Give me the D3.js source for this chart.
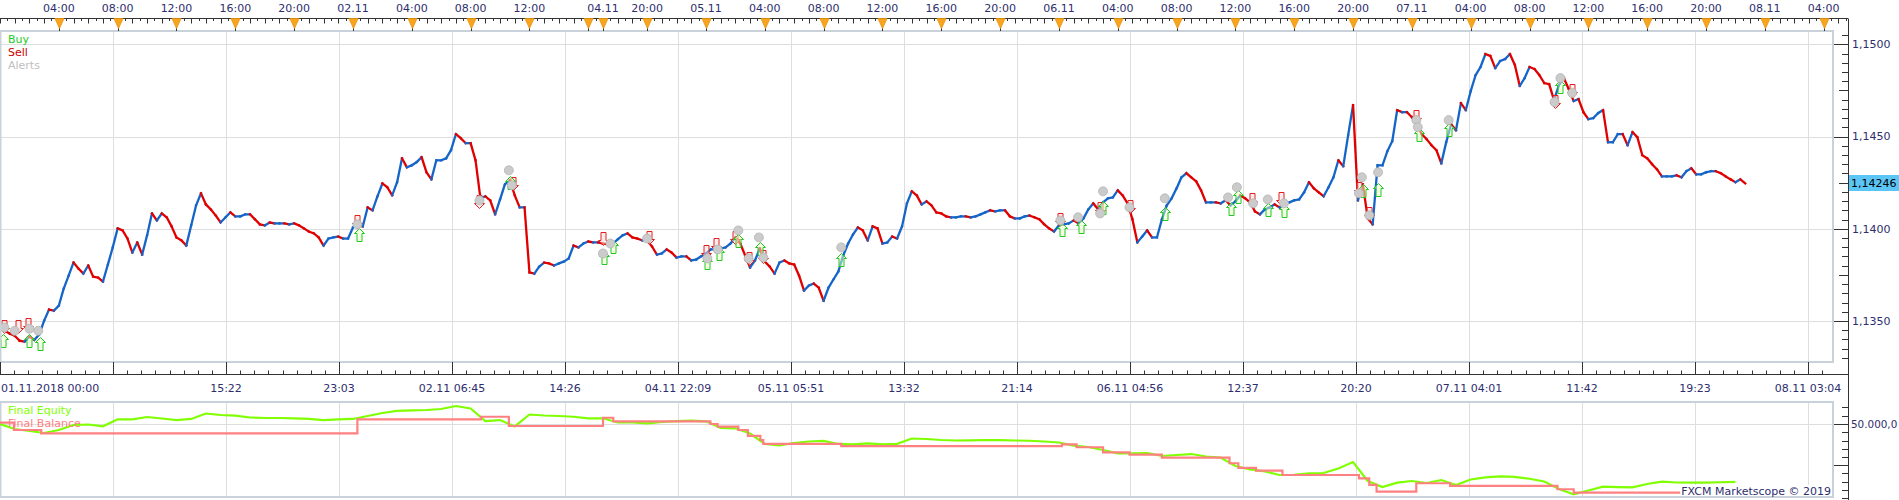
<!DOCTYPE html>
<html>
<head>
<meta charset="utf-8">
<script src="https://cdn.jsdelivr.net/npm/d3@7"></script>
<style>
html, body { margin: 0; padding: 0; background: #fff; }
svg { display: block; font-family: "DejaVu Sans", Verdana, sans-serif; font-size: 11px; }
</style>
</head>
<body>
<div id="chart"></div>
<script>
// ---- data (time in trading hours since 01.11.2018 00:00, weekend removed) ----
const priceStepHours = 1 / 3; // 20 minute closes
const closes = [
  1.13475,1.13447,1.13431,1.13420,1.13393,1.13388,1.13415,1.13398,1.13426,1.13502,
  1.13562,1.13556,1.13583,1.13676,1.13746,1.13817,1.13784,1.13757,1.13801,1.13741,
  1.13735,1.13714,1.13806,1.13899,1.14002,1.13991,1.13947,1.13871,1.13926,1.13860,
  1.13964,1.14083,1.14045,1.14083,1.14062,1.14013,1.13953,1.13937,1.13909,1.14018,
  1.14127,1.14192,1.14132,1.14105,1.14072,1.14034,1.14062,1.14089,1.14067,1.14067,
  1.14078,1.14078,1.14051,1.14024,1.14018,1.14034,1.14029,1.14029,1.14029,1.14024,
  1.14029,1.14018,1.14002,1.13985,1.13975,1.13953,1.13909,1.13947,1.13953,1.13958,
  1.13947,1.13947,1.14007,1.14018,1.14013,1.14116,1.14100,1.14176,1.14246,1.14225,
  1.14181,1.14252,1.14382,1.14333,1.14344,1.14361,1.14388,1.14306,1.14268,1.14371,
  1.14371,1.14382,1.14426,1.14513,1.14491,1.14464,1.14464,1.14371,1.14165,1.14176,
  1.14154,1.14078,1.14159,1.14241,1.14263,1.14181,1.14116,1.14116,1.13763,1.13757,
  1.13795,1.13817,1.13812,1.13801,1.13812,1.13822,1.13839,1.13909,1.13899,1.13920,
  1.13931,1.13926,1.13926,1.13920,1.13915,1.13920,1.13942,1.13964,1.13975,1.13953,
  1.13947,1.13937,1.13937,1.13904,1.13860,1.13866,1.13888,1.13871,1.13844,1.13850,
  1.13850,1.13828,1.13833,1.13850,1.13866,1.13888,1.13888,1.13893,1.13899,1.13920,
  1.13953,1.13920,1.13855,1.13790,1.13828,1.13893,1.13822,1.13795,1.13757,1.13817,
  1.13828,1.13812,1.13806,1.13746,1.13665,1.13692,1.13703,1.13681,1.13610,1.13681,
  1.13725,1.13768,1.13855,1.13920,1.13969,1.14007,1.13991,1.13937,1.14013,1.14002,
  1.13920,1.13926,1.13958,1.13947,1.14013,1.14138,1.14203,1.14181,1.14132,1.14149,
  1.14127,1.14089,1.14083,1.14067,1.14062,1.14062,1.14067,1.14067,1.14062,1.14067,
  1.14078,1.14089,1.14100,1.14094,1.14100,1.14100,1.14067,1.14056,1.14056,1.14067,
  1.14072,1.14062,1.14051,1.14024,1.14002,1.13985,1.14018,1.14024,1.14029,1.14045,
  1.14029,1.14056,1.14105,1.14138,1.14105,1.14143,1.14165,1.14170,1.14208,1.14181,
  1.14138,1.14051,1.13926,1.13958,1.13991,1.13953,1.13953,1.14051,1.14127,1.14165,
  1.14219,1.14279,1.14301,1.14279,1.14257,1.14208,1.14143,1.14143,1.14143,1.14138,
  1.14154,1.14127,1.14149,1.14181,1.14165,1.14143,1.14094,1.14078,1.14105,1.14116,
  1.14132,1.14116,1.14138,1.14143,1.14154,1.14159,1.14197,1.14252,1.14219,1.14197,
  1.14176,1.14225,1.14279,1.14371,1.14339,1.14507,1.14670,1.14154,1.14241,1.14056,
  1.14024,1.14344,1.14344,1.14420,1.14475,1.14643,1.14632,1.14632,1.14605,1.14562,
  1.14513,1.14486,1.14453,1.14426,1.14355,1.14469,1.14567,1.14534,1.14681,1.14643,
  1.14746,1.14833,1.14877,1.14947,1.14937,1.14871,1.14909,1.14920,1.14947,1.14888,
  1.14774,1.14817,1.14877,1.14866,1.14833,1.14790,1.14784,1.14697,1.14779,1.14817,
  1.14757,1.14692,1.14703,1.14632,1.14594,1.14600,1.14627,1.14643,1.14469,1.14469,
  1.14513,1.14513,1.14453,1.14524,1.14496,1.14399,1.14382,1.14350,1.14322,1.14284,
  1.14284,1.14284,1.14290,1.14279,1.14312,1.14328,1.14295,1.14295,1.14306,1.14312,
  1.14312,1.14301,1.14284,1.14268,1.14252,1.14268,1.14246
];

// [hour, price]
const buyMarks = [[0.2,1.13431],[2.0,1.13431],[2.7,1.13415],[24.4,1.14002],[34.7,1.14284],
  [41.1,1.13882],[41.7,1.13937],[48.1,1.13850],[48.9,1.13899],[50.2,1.13969],[51.7,1.13926],
  [57.2,1.13871],[72.2,1.14029],[73.5,1.14045],[75.0,1.14149],[79.2,1.14116],[83.7,1.14143],
  [84.2,1.14208],[86.2,1.14138],[87.3,1.14132],[92.7,1.14241],[93.7,1.14246],[96.5,1.14545],
  [98.5,1.14572],[106.1,1.14806]];
const sellMarks = [[0.3,1.13437],[1.2,1.13437],[1.9,1.13447],[24.3,1.14002],[32.6,1.14111],
  [34.9,1.14208],[41.0,1.13910],[44.1,1.13920],[48.0,1.13839],[48.7,1.13882],[50.0,1.13920],
  [50.9,1.13801],[51.9,1.13817],[72.1,1.14013],[74.8,1.14073],[76.8,1.14083],[85.1,1.14121],
  [87.1,1.14127],[92.4,1.14181],[93.1,1.14045],[96.3,1.14572],[105.7,1.14654],[106.9,1.14714]];
const alertMarks = [[0.3,1.13464],[1.0,1.13447],[2.0,1.13458],[2.6,1.13447],[24.3,1.14024],
  [32.6,1.14154],[34.6,1.14317],[34.8,1.14236],[41.0,1.13866],[41.5,1.13920],[44.0,1.13947],
  [48.1,1.13839],[48.8,1.13888],[50.2,1.13991],[50.9,1.13839],[51.6,1.13953],[51.9,1.13844],
  [57.2,1.13899],[72.1,1.14045],[73.3,1.14062],[75.0,1.14203],[74.8,1.14083],[76.8,1.14116],
  [79.2,1.14165],[83.5,1.14170],[84.1,1.14225],[85.2,1.14138],[86.2,1.14159],[87.3,1.14138],
  [92.6,1.14279],[92.4,1.14192],[93.1,1.14073],[93.7,1.14306],[96.3,1.14589],[96.4,1.14551],
  [98.5,1.14589],[106.1,1.14817],[105.7,1.14687],[106.9,1.14736]];

// hourly equity
const equity = [
  50000,49939,49915,49891,49927,49988,49994,49972,50057,50057,
  50085,50067,50048,50061,50127,50109,50101,50079,50073,50073,
  50067,50061,50048,50055,50061,50097,50133,50158,50164,50170,
  50182,50218,50188,50036,50048,49970,50115,50103,50097,50088,
  50069,50069,50018,50018,50008,50024,50036,50040,50033,49952,
  49948,49885,49758,49742,49770,49788,49796,49758,49752,49764,
  49752,49760,49824,49818,49806,49800,49802,49806,49804,49800,
  49797,49788,49776,49737,49721,49685,49645,49645,49648,49612,
  49624,49636,49606,49594,49491,49449,49424,49382,49385,49403,
  49406,49461,49539,49309,49236,49289,49309,49285,49321,49261,
  49327,49354,49366,49358,49336,49303,49212,49148,49194,49240,
  49236,49233,49273,49301,49291,49289,49289,49294,49299
];
const balanceHours = [0,0.95,2.8,24.3,32.7,34.6,41.0,41.7,48.3,48.8,50.2,50.85,51.7,51.9,57.2,
  72.2,73.2,75.0,76.8,79.0,83.6,84.2,85.4,87.2,92.4,93.1,93.6,96.3,98.6,105.9,107.0,118.67];
const balanceValues = [50016,49927,49887,50057,50088,49976,50076,50033,50000,49967,49927,49855,49806,49758,49733,
  49754,49718,49657,49630,49592,49524,49467,49434,49382,49342,49261,49180,49282,49249,49209,49167,49167];

const topTickHours = [4,8,12,16,20,24,28,32,36,40,41,44,48,52,56,60,64,68,72,76,80,84,88,92,96,100,104,108,112,116,120,124];
const topTickLabels = ["04:00","08:00","12:00","16:00","20:00","02.11","04:00","08:00","12:00","","04.11","20:00",
  "05.11","04:00","08:00","12:00","16:00","20:00","06.11","04:00","08:00","12:00","16:00","20:00",
  "07.11","04:00","08:00","12:00","16:00","20:00","08.11","04:00"];
const gridStepHours = 461 / 60; // 7h41m
const bottomLabels = ["01.11.2018 00:00","","15:22","23:03","02.11 06:45","14:26","04.11 22:09","05.11 05:51",
  "13:32","21:14","06.11 04:56","12:37","20:20","07.11 04:01","11:42","19:23","08.11 03:04"];
const priceTicks = [1.1350, 1.1400, 1.1450, 1.1500];

// ---- layout ----
const W = 1899, H = 500;
const axisX = 1848, frameRight = 1833;
const mainTop = 31, mainBottom = 362;
const eqTop = 402, eqBottom = 497;
const textColor = "#2e2e6e", gridColor = "#dedede", frameColor = "#c9d1da";

const svg = d3.select("#chart").append("svg").attr("width", W).attr("height", H);

const x = d3.scaleLinear().domain([0, 16 * gridStepHours]).range([0, 1808]);
const yPrice = d3.scaleLinear().domain([1.1350, 1.1500]).range([321, 44.3]);
const yEq = d3.scaleLinear().domain([49500, 50000]).range([465.25, 424]);

const defs = svg.append("defs");
defs.append("clipPath").attr("id", "clipMain").append("rect")
  .attr("x", 0).attr("y", mainTop).attr("width", frameRight).attr("height", mainBottom - mainTop);
defs.append("clipPath").attr("id", "clipEq").append("rect")
  .attr("x", 0).attr("y", eqTop).attr("width", frameRight).attr("height", eqBottom - eqTop);

// ---- grids ----
const gridHours = d3.range(1, 17).map(k => k * gridStepHours);
[[mainTop, mainBottom], [eqTop, eqBottom]].forEach(([t, b]) => {
  svg.append("g").selectAll("line").data(gridHours).join("line")
    .attr("x1", d => Math.round(x(d)) + 0.5).attr("x2", d => Math.round(x(d)) + 0.5)
    .attr("y1", t).attr("y2", b)
    .attr("stroke", gridColor);
});
svg.append("g").selectAll("line").data(priceTicks).join("line")
  .attr("x1", 0).attr("x2", frameRight)
  .attr("y1", d => Math.round(yPrice(d)) + 0.5).attr("y2", d => Math.round(yPrice(d)) + 0.5)
  .attr("stroke", gridColor);
svg.append("line").attr("x1", 0).attr("x2", frameRight)
  .attr("y1", Math.round(yEq(50000)) + 0.5).attr("y2", Math.round(yEq(50000)) + 0.5)
  .attr("stroke", gridColor);

// ---- price bars ----
const pts = closes.map((c, i) => ({t: i * priceStepHours, c}));
svg.append("g").attr("clip-path", "url(#clipMain)")
  .selectAll("line").data(d3.pairs(pts)).join("line")
  .attr("x1", d => x(d[0].t)).attr("y1", d => yPrice(d[0].c))
  .attr("x2", d => x(d[1].t)).attr("y2", d => yPrice(d[1].c))
  .attr("stroke", d => d[1].c >= d[0].c ? "#1565c8" : "#e00000")
  .attr("stroke-width", 2.3)
  .attr("stroke-linecap", "square");

// ---- markers ----
const upArrow = (cx, ty) => `M${cx},${ty}L${cx + 5},${ty + 5}L${cx + 2.5},${ty + 5}L${cx + 2.5},${ty + 13}` +
  `L${cx - 2.5},${ty + 13}L${cx - 2.5},${ty + 5}L${cx - 5},${ty + 5}Z`;
const downArrow = (cx, by) => `M${cx},${by}L${cx + 5},${by - 5}L${cx + 2.5},${by - 5}L${cx + 2.5},${by - 13}` +
  `L${cx - 2.5},${by - 13}L${cx - 2.5},${by - 5}L${cx - 5},${by - 5}Z`;
const markG = svg.append("g").attr("clip-path", "url(#clipMain)");
markG.selectAll("path.sell").data(sellMarks).join("path").attr("class", "sell")
  .attr("d", d => downArrow(Math.round(x(d[0])) + 0.5, Math.round(yPrice(d[1])) + 0.5))
  .attr("fill", "rgba(255,220,220,0.5)").attr("stroke", "#e02020").attr("stroke-width", 1);
markG.selectAll("path.buy").data(buyMarks).join("path").attr("class", "buy")
  .attr("d", d => upArrow(Math.round(x(d[0])) + 0.5, Math.round(yPrice(d[1])) + 0.5))
  .attr("fill", "rgba(235,255,200,0.5)").attr("stroke", "#20c820").attr("stroke-width", 1);
markG.selectAll("circle.alert").data(alertMarks).join("circle").attr("class", "alert")
  .attr("cx", d => x(d[0])).attr("cy", d => yPrice(d[1])).attr("r", 4.5)
  .attr("fill", "#cbcbcb").attr("stroke", "#b4b4b4").attr("stroke-width", 0.8);

// ---- frames ----
svg.append("rect").attr("x", 0.5).attr("y", mainTop).attr("width", frameRight - 0.5).attr("height", mainBottom - mainTop)
  .attr("fill", "none").attr("stroke", frameColor).attr("stroke-width", 2);
svg.append("rect").attr("x", 0.5).attr("y", eqTop).attr("width", frameRight - 0.5).attr("height", eqBottom - eqTop)
  .attr("fill", "none").attr("stroke", frameColor).attr("stroke-width", 2);

// ---- legends ----
const leg = svg.append("g");
leg.append("text").attr("x", 8).attr("y", 43).attr("fill", "#22cc22").text("Buy");
leg.append("text").attr("x", 8).attr("y", 56).attr("fill", "#cc0000").text("Sell");
leg.append("text").attr("x", 8).attr("y", 69).attr("fill", "#c0c0c0").text("Alerts");

// ---- top time ruler ----
const topY = 18.5;
svg.append("line").attr("x1", 0).attr("x2", axisX).attr("y1", topY).attr("y2", topY).attr("stroke", "#333");
svg.append("g").selectAll("line").data(d3.range(0, 125.8, 0.5)).join("line")
  .attr("x1", d => Math.round(x(d)) + 0.5).attr("x2", d => Math.round(x(d)) + 0.5)
  .attr("y1", topY).attr("y2", d => topY + (d % 1 === 0 ? 5 : 2.5))
  .attr("stroke", "#333");
const tri = svg.append("g").selectAll("g").data(topTickHours).join("g")
  .attr("transform", d => `translate(${Math.round(x(d)) + 0.5},0)`);
tri.append("line").attr("y1", topY).attr("y2", mainTop).attr("stroke", "#333");
tri.append("path").attr("d", `M-4.5,${topY}L4.5,${topY}L0,${topY + 10}Z`)
  .attr("fill", "#f8a41c").attr("stroke", "#e8900a").attr("stroke-width", 0.8);
svg.append("g").selectAll("text").data(topTickHours).join("text")
  .attr("x", d => x(d)).attr("y", 12).attr("text-anchor", "middle").attr("fill", textColor)
  .text((d, i) => topTickLabels[i]);

// ---- bottom time axis ----
const botY = 374.5;
svg.append("line").attr("x1", 0).attr("x2", axisX).attr("y1", botY).attr("y2", botY).attr("stroke", "#333");
svg.append("g").selectAll("line").data(d3.range(0, 16.2 * 8).map(i => i * gridStepHours / 8)).join("line")
  .attr("x1", d => Math.round(x(d)) + 0.5).attr("x2", d => Math.round(x(d)) + 0.5)
  .attr("y1", botY).attr("y2", (d, i) => i % 8 === 0 ? mainBottom : botY - 4)
  .attr("stroke", "#333");
svg.append("g").selectAll("text").data(bottomLabels).join("text")
  .attr("x", (d, i) => i === 0 ? 1 : x(i * gridStepHours))
  .attr("y", 392)
  .attr("text-anchor", (d, i) => i === 0 ? "start" : "middle")
  .attr("fill", textColor)
  .text(d => d);

// ---- right price axis ----
svg.append("line").attr("x1", axisX + 0.5).attr("x2", axisX + 0.5).attr("y1", topY).attr("y2", H).attr("stroke", "#333");
const minorPrices = d3.range(0, 38).map(i => 1.1330 + i * 0.0005).filter(v => v < 1.1508);
svg.append("g").selectAll("line").data(minorPrices).join("line")
  .attr("y1", d => Math.round(yPrice(d)) + 0.5).attr("y2", d => Math.round(yPrice(d)) + 0.5)
  .attr("x1", d => {
    const r = Math.round(d * 10000) % 50;
    return axisX - (r === 0 ? 14 : r === 25 ? 9 : 6);
  })
  .attr("x2", axisX)
  .attr("stroke", "#333");
const fmtPrice = v => d3.format(".4f")(v).replace(".", ",");
svg.append("g").selectAll("text").data(priceTicks).join("text")
  .attr("x", axisX + 4).attr("y", d => yPrice(d)).attr("dy", "0.35em")
  .attr("fill", textColor).text(fmtPrice);

// current price badge
const last = closes[closes.length - 1];
svg.append("rect").attr("x", axisX + 1).attr("y", Math.round(yPrice(last)) - 8)
  .attr("width", W - axisX - 1).attr("height", 16).attr("fill", "#5bc6f5");
svg.append("text").attr("x", axisX + 3).attr("y", yPrice(last)).attr("dy", "0.35em")
  .attr("fill", "#000").text(d3.format(".5f")(last).replace(".", ","));

// ---- equity panel ----
const eqLine = d3.line().x((d, i) => x(i)).y(d => yEq(d));
const balPts = balanceHours.map((h, i) => [h, balanceValues[i]]);
const balLine = d3.line().x(d => x(d[0])).y(d => yEq(d[1])).curve(d3.curveStepAfter);
const eqG = svg.append("g").attr("clip-path", "url(#clipEq)");
eqG.append("path").datum(equity).attr("d", eqLine)
  .attr("fill", "none").attr("stroke", "#80ff00").attr("stroke-width", 2.2);
eqG.append("path").datum(balPts).attr("d", balLine)
  .attr("fill", "none").attr("stroke", "#ff8080").attr("stroke-width", 2.2);

svg.append("text").attr("x", 8).attr("y", 414).attr("fill", "#80ff00").text("Final Equity");
svg.append("text").attr("x", 8).attr("y", 427).attr("fill", "#ff8080").text("Final Balance");

// equity axis
const eqTicks = d3.range(49100, 50300, 100).filter(v => yEq(v) > eqTop && yEq(v) < H);
svg.append("g").selectAll("line").data(eqTicks).join("line")
  .attr("y1", d => Math.round(yEq(d)) + 0.5).attr("y2", d => Math.round(yEq(d)) + 0.5)
  .attr("x1", d => axisX - (d % 500 === 0 ? 14 : 6)).attr("x2", axisX)
  .attr("stroke", "#333");
svg.append("text").attr("x", axisX + 3).attr("y", yEq(50000)).attr("dy", "0.35em")
  .attr("fill", textColor).style("font-size", "10.4px").text("50.000,0");

// watermark
const wm = svg.append("g");
const wmText = wm.append("text").attr("x", frameRight - 2).attr("y", 495).attr("text-anchor", "end")
  .attr("fill", textColor).text("FXCM Marketscope © 2019");
const bb = wmText.node().getBBox();
wm.insert("rect", "text").attr("x", bb.x - 1).attr("y", bb.y).attr("width", bb.width + 2).attr("height", eqBottom - 1 - bb.y)
  .attr("fill", "#fff");
</script>
</body>
</html>
